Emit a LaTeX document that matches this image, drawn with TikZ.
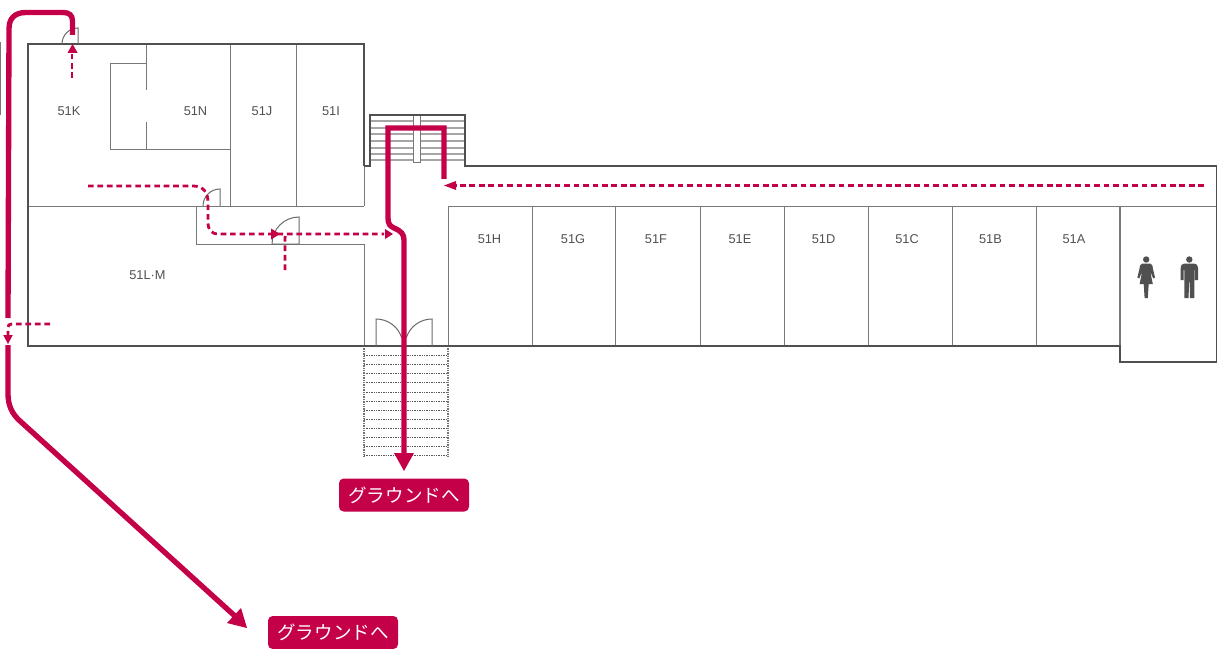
\documentclass[tikz,border=0pt]{standalone}
\usepackage{fontspec}
\setmainfont{Liberation Sans}
\newfontfamily\cjk{Noto Sans CJK JP}
\definecolor{wallc}{HTML}{505050}
\definecolor{thinc}{HTML}{787878}
\definecolor{routec}{HTML}{C40048}
\tikzset{
 x=0.75pt,y=-0.75pt,
 wall/.style={draw=wallc,line width=2.1pt,line join=miter},
 thin wall/.style={draw=thinc,line width=0.72pt},
 door/.style={draw=wallc!85,line width=0.75pt},
 tread/.style={draw=black!35,line width=0.9pt},
 dots/.style={draw=black!65,line width=0.5pt,dash pattern=on 1.1pt off 0.7pt},
 route/.style={draw=routec,line width=4pt,line cap=butt},
 dash route/.style={draw=routec,line width=2.1pt,dash pattern=on 4.2pt off 2.9pt},
 room/.style={text=wallc,font=\fontsize{9.6pt}{10pt}\selectfont,inner sep=0pt},
 tag/.style={fill=routec,text=white,rounded corners=3.5pt,minimum width=97.5pt,minimum height=24.75pt,inner sep=0pt,font=\cjk\fontsize{13.9pt}{15pt}\selectfont},
 head/.style={fill=routec,draw=none},
 icon/.style={fill=wallc,draw=none},
}
\begin{document}
\begin{tikzpicture}
\useasboundingbox (0,0) rectangle (1217,649);
% thin walls
\draw[thin wall] (0.5,42) -- (0.5,115);
\draw[thin wall] (28,206) -- (364,206);
\draw[thin wall] (230,44) -- (230,206) (296,44) -- (296,206);
\draw[thin wall] (146,44) -- (146,90) (146,122) -- (146,149);
\draw[thin wall] (146,63) -- (110,63) -- (110,149) -- (230,149);
\draw[thin wall] (196,206) -- (196,244) -- (364,244) -- (364,346);
\draw[thin wall] (364,166) -- (364,206);
\draw[thin wall] (448,346) -- (448,206) -- (1217,206);
\foreach \px in {532,615,700,784,868,952,1036} \draw[thin wall] (\px,206) -- (\px,346);
\draw[thin wall,line width=1.1pt] (1120,206) -- (1120,346);
% upper stairs
\foreach \py in {121,128,134,141,148,154,160} \draw[tread] (370,\py) -- (465,\py);
\draw[draw=thinc,line width=0.75pt,fill=white] (413,115) rectangle (420,163);
% lower stairs
\foreach \py in {355.5,364.6,373.7,382.8,391.9,401,410.1,419.2,428.3,437.4,446.5,455.6} \draw[dots] (364,\py) -- (448,\py);
\draw[dots,draw=black!55,line width=1pt] (364,346) -- (364,456.5) (448,346) -- (448,456.5);
% outer walls
\draw[wall] (364,166) -- (364,44) -- (28,44) -- (28,346) -- (1120,346) -- (1120,362) -- (1217,362) -- (1217,166) -- (465,166) -- (465,115) -- (370,115) -- (370,166) -- (364,166);
% doors
\draw[door] (62,44) arc[start angle=180,end angle=270,radius=16] -- (78,44);
\draw[door] (203,206) arc[start angle=180,end angle=270,radius=17] -- (220,206);
\draw[door] (272,244) arc[start angle=180,end angle=270,radius=27] -- (299,244) -- cycle;
\draw[door] (376,346) -- (376,319) arc[start angle=270,end angle=342,radius=27];
\draw[door] (432,346) -- (432,319) arc[start angle=270,end angle=198,radius=27];
% labels
\node[room] (k) at (69,111) {51K};
\node[room] (n) at (195.5,111) {51N};
\node[room] (j) at (262,111) {51J};
\node[room] (i) at (331,111) {51I};
\node[room] (lm) at (147.5,275) {51L·M};
\node[room] (h) at (489.5,239) {51H};
\node[room] (g) at (573,239) {51G};
\node[room] (f) at (656,239) {51F};
\node[room] (e) at (740,239) {51E};
\node[room] (d) at (823.5,239) {51D};
\node[room] (c) at (907,239) {51C};
\node[room] (b) at (990.5,239) {51B};
\node[room] (a) at (1074,239) {51A};
% toilet icons
\fill[icon] (1146.2,259.5) circle (3.2);
\fill[icon] (1142,263.5) -- (1150.4,263.5) .. controls (1152.5,264.5) and (1152.8,266.5) .. (1153,269) -- (1155,277.5) -- (1153.2,278.5) -- (1150.2,271.5) -- (1152.8,284) -- (1148.7,284) -- (1147.8,298) -- (1144.6,298) -- (1143.7,284) -- (1139.6,284) -- (1142.2,271.5) -- (1139.2,278.5) -- (1137.4,277.5) -- (1139.4,269) .. controls (1139.6,266.5) and (1139.9,264.5) .. (1142,263.5) -- cycle;
\fill[icon] (1189.3,259.5) circle (3.2);
\fill[icon] (1184.5,263.5) -- (1194.1,263.5) .. controls (1196.8,264) and (1198,265) .. (1198,268) -- (1198,280) -- (1194.9,280) -- (1194.9,270) -- (1194.3,270) -- (1194.3,298) -- (1190,298) -- (1189.6,282) -- (1189,282) -- (1188.6,298) -- (1184.3,298) -- (1184.3,270) -- (1183.7,270) -- (1183.7,280) -- (1180.6,280) -- (1180.6,268) .. controls (1180.6,265) and (1181.8,264) .. (1184.5,263.5) -- cycle;
% dashed routes
\coordinate (c1s) at (1204,185.5); \coordinate (c1e) at (456,185.5);
\draw[dash route] (c1s) -- (c1e);
\fill[head] (444,185.5) -- (456,181) -- (456,190) -- cycle;
\draw[dash route] (72,78) -- (72,54);
\fill[head] (72.5,44) -- (77.7,53) -- (67.5,53) -- cycle;
\draw[dash route] (88,186) -- (193,186) .. controls (203,186) and (208,192) .. (208,202) -- (208,222) .. controls (208,230) and (211,234) .. (219,234) -- (384,234);
\fill[head] (393,234) -- (385,229) -- (385,239) -- cycle;
\draw[dash route] (285,270) -- (285,238) .. controls (285,235) and (285,234) .. (288,234);
\fill[head] (280,234) -- (271,228.5) -- (271,239.5) -- cycle;
\draw[dash route] (50,324) -- (12,324) .. controls (9,324) and (8,325) .. (8,328) -- (8,336);
\fill[head] (8,344) -- (3.2,335) -- (12.8,335) -- cycle;
% solid routes
\draw[route] (72.5,35) -- (72.5,21) .. controls (72.5,15) and (69,12.5) .. (63,12.5) -- (26,12.5) .. controls (15,12.5) and (9,18) .. (9,29) -- (8,318);
\draw[route] (8,345) -- (8,394) .. controls (8,405) and (12,414) .. (20,421) -- (236,617);
\fill[head] (247,628) -- (227,623) -- (241,608) -- cycle;
\draw[route] (444,179) -- (444,128) -- (388,128) -- (388,218) .. controls (388,224) and (390,226) .. (394,228) .. controls (401,231) and (404,234) .. (404,240) -- (404,455);
\fill[head] (404,471) -- (394,453) -- (414,453) -- cycle;
% tags
\node[tag] (t1) at (404,495) {グラウンドへ};
\node[tag] (t2) at (333,632.5) {グラウンドへ};
\end{tikzpicture}
\end{document}
